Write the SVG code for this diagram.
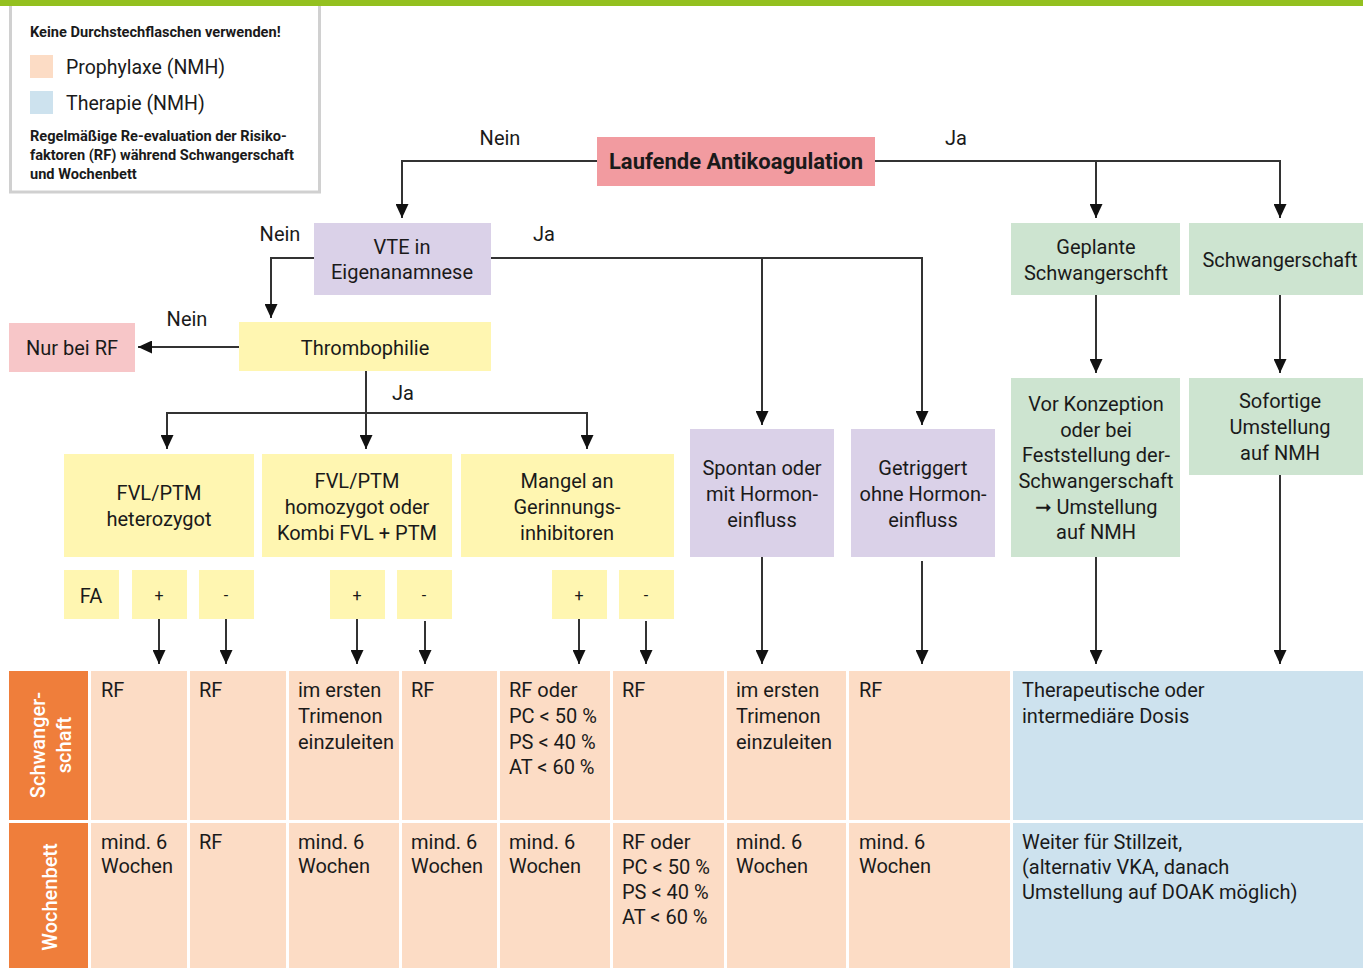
<svg xmlns="http://www.w3.org/2000/svg" width="1363" height="968" viewBox="0 0 1363 968">
<defs>
<style>
text{font-family:Roboto,"Liberation Sans",sans-serif;fill:#1a1a1a;font-size:20px}
.c{text-anchor:middle}
.b{font-weight:bold}
.lg{font-size:14.6px;font-weight:bold}
.sm{font-size:16px}
.hd{fill:#fff;font-weight:500;text-anchor:middle}
.ln{fill:none;stroke:#333;stroke-width:2}
.pk{fill:#f29ba0}.rs{fill:#f7c6c8}.lv{fill:#dad1e8}.ye{fill:#fff6b1}.gr{fill:#cde4d0}.pe{fill:#fcdcc5}.bl{fill:#cde2ee}.or{fill:#ef7e3b}
</style>
<marker id="ah" markerUnits="userSpaceOnUse" markerWidth="14" markerHeight="13" refX="14" refY="6.5" orient="auto">
<path d="M0,0 L14,6.5 L0,13 z" fill="#111"/>
</marker>
</defs>
<rect width="1363" height="968" fill="#fff"/>
<g id="legend">
<rect x="10.5" y="-2" width="309" height="194" fill="#fff" stroke="#d0d0d0" stroke-width="3"/>
<text x="30" y="37" class="lg">Keine Durchstechflaschen verwenden!</text>
<rect x="30" y="55" width="23" height="23" class="pe"/>
<text x="66" y="74" style="font-size:19.5px">Prophylaxe (NMH)</text>
<rect x="30" y="91" width="23" height="23" class="bl"/>
<text x="66" y="110" style="font-size:19.5px">Therapie (NMH)</text>
<text x="30" y="141" class="lg">Regelmäßige Re-evaluation der Risiko-</text>
<text x="30" y="160" class="lg">faktoren (RF) während Schwangerschaft</text>
<text x="30" y="179" class="lg">und Wochenbett</text>
</g>
<rect x="0" y="0" width="1363" height="6" fill="#93c01f"/>
<g id="connectors">
<polyline class="ln" points="597,161 402,161 402,218" marker-end="url(#ah)"/>
<polyline class="ln" points="875,161 1096,161 1096,218" marker-end="url(#ah)"/>
<polyline class="ln" points="1096,161 1280,161 1280,218" marker-end="url(#ah)"/>
<polyline class="ln" points="314,258 271,258 271,318" marker-end="url(#ah)"/>
<polyline class="ln" points="491,258 762,258 762,425" marker-end="url(#ah)"/>
<polyline class="ln" points="762,258 922,258 922,425" marker-end="url(#ah)"/>
<line class="ln" x1="239" y1="347" x2="138" y2="347" marker-end="url(#ah)"/>
<line class="ln" x1="366" y1="371" x2="366" y2="449" marker-end="url(#ah)"/>
<polyline class="ln" points="366,413 167,413 167,449" marker-end="url(#ah)"/>
<polyline class="ln" points="366,413 587,413 587,449" marker-end="url(#ah)"/>
<line class="ln" x1="1096" y1="295" x2="1096" y2="373" marker-end="url(#ah)"/>
<line class="ln" x1="1280" y1="295" x2="1280" y2="373" marker-end="url(#ah)"/>
<line class="ln" x1="159" y1="619" x2="159" y2="664" marker-end="url(#ah)"/>
<line class="ln" x1="226" y1="619" x2="226" y2="664" marker-end="url(#ah)"/>
<line class="ln" x1="357" y1="619" x2="357" y2="664" marker-end="url(#ah)"/>
<line class="ln" x1="425" y1="621" x2="425" y2="664" marker-end="url(#ah)"/>
<line class="ln" x1="579" y1="619" x2="579" y2="664" marker-end="url(#ah)"/>
<line class="ln" x1="646" y1="621" x2="646" y2="664" marker-end="url(#ah)"/>
<line class="ln" x1="762" y1="557" x2="762" y2="664" marker-end="url(#ah)"/>
<line class="ln" x1="922" y1="561" x2="922" y2="664" marker-end="url(#ah)"/>
<line class="ln" x1="1096" y1="557" x2="1096" y2="664" marker-end="url(#ah)"/>
<line class="ln" x1="1280" y1="475" x2="1280" y2="664" marker-end="url(#ah)"/>
<text x="500" y="145" class="c">Nein</text>
<text x="956" y="145" class="c">Ja</text>
<text x="280" y="241" class="c">Nein</text>
<text x="544" y="241" class="c">Ja</text>
<text x="187" y="326" class="c">Nein</text>
<text x="403" y="400" class="c">Ja</text>
</g>
<g id="laufende">
<rect x="597" y="137" width="278" height="49" class="pk"/>
<text x="736" y="169" class="c b" style="font-size:22px">Laufende Antikoagulation</text>
</g>
<g id="vte">
<rect x="314" y="223" width="177" height="72" class="lv"/>
<text x="402" y="254" class="c">VTE in</text>
<text x="402" y="279" class="c">Eigenanamnese</text>
</g>
<g id="thrombophilie">
<rect x="239" y="322" width="252" height="49" class="ye"/>
<text x="365" y="355" class="c">Thrombophilie</text>
</g>
<g id="nurbeirf">
<rect x="9" y="323" width="126" height="49" class="rs"/>
<text x="72" y="355" class="c">Nur bei RF</text>
</g>
<g id="fvl-het">
<rect x="64" y="454" width="190" height="103" class="ye"/>
<text x="159" y="500" class="c">FVL/PTM</text>
<text x="159" y="526" class="c">heterozygot</text>
</g>
<g id="fvl-hom">
<rect x="262" y="454" width="190" height="103" class="ye"/>
<text x="357" y="488" class="c">FVL/PTM</text>
<text x="357" y="514" class="c">homozygot oder</text>
<text x="357" y="540" class="c">Kombi FVL + PTM</text>
</g>
<g id="mangel">
<rect x="461" y="454" width="213" height="103" class="ye"/>
<text x="567" y="488" class="c">Mangel an</text>
<text x="567" y="514" class="c">Gerinnungs-</text>
<text x="567" y="540" class="c">inhibitoren</text>
</g>
<g id="fa"><rect x="64" y="570" width="55" height="49" class="ye"/><text x="91" y="603" class="c">FA</text></g>
<g id="het-plus"><rect x="132" y="570" width="55" height="49" class="ye"/><text x="159" y="601" class="c sm">+</text></g>
<g id="het-minus"><rect x="199" y="570" width="55" height="49" class="ye"/><text x="226" y="601" class="c sm">-</text></g>
<g id="hom-plus"><rect x="330" y="570" width="55" height="49" class="ye"/><text x="357" y="601" class="c sm">+</text></g>
<g id="hom-minus"><rect x="397" y="570" width="55" height="49" class="ye"/><text x="424" y="601" class="c sm">-</text></g>
<g id="mangel-plus"><rect x="552" y="570" width="55" height="49" class="ye"/><text x="579" y="601" class="c sm">+</text></g>
<g id="mangel-minus"><rect x="619" y="570" width="55" height="49" class="ye"/><text x="646" y="601" class="c sm">-</text></g>
<g id="spontan">
<rect x="690" y="429" width="144" height="128" class="lv"/>
<text x="762" y="475" class="c">Spontan oder</text>
<text x="762" y="501" class="c">mit Hormon-</text>
<text x="762" y="527" class="c">einfluss</text>
</g>
<g id="getriggert">
<rect x="851" y="429" width="144" height="128" class="lv"/>
<text x="923" y="475" class="c">Getriggert</text>
<text x="923" y="501" class="c">ohne Hormon-</text>
<text x="923" y="527" class="c">einfluss</text>
</g>
<g id="geplante">
<rect x="1011" y="223" width="169" height="72" class="gr"/>
<text x="1096" y="254" class="c">Geplante</text>
<text x="1096" y="280" class="c">Schwangerschft</text>
</g>
<g id="schwangerschaft">
<rect x="1189" y="223" width="174" height="72" class="gr"/>
<text x="1280" y="267" class="c">Schwangerschaft</text>
</g>
<g id="vorkonzeption">
<rect x="1011" y="378" width="169" height="179" class="gr"/>
<text x="1096" y="411" class="c">Vor Konzeption</text>
<text x="1096" y="437" class="c">oder bei</text>
<text x="1096" y="462" class="c">Feststellung der-</text>
<text x="1096" y="488" class="c">Schwangerschaft</text>
<text x="1096" y="514" class="c">➞ Umstellung</text>
<text x="1096" y="539" class="c">auf NMH</text>
</g>
<g id="sofortige">
<rect x="1189" y="378" width="174" height="97" class="gr"/>
<text x="1280" y="408" class="c">Sofortige</text>
<text x="1280" y="434" class="c">Umstellung</text>
<text x="1280" y="460" class="c">auf NMH</text>
</g>
<g id="table">
<rect x="9" y="671" width="79" height="149" class="or"/>
<rect x="9" y="823" width="79" height="145" class="or"/>
<text transform="translate(45,745) rotate(-90)" class="hd">Schwanger-</text>
<text transform="translate(71,745) rotate(-90)" class="hd">schaft</text>
<text transform="translate(57,897) rotate(-90)" class="hd">Wochenbett</text>
<rect x="91" y="671" width="96" height="149" class="pe"/>
<rect x="190" y="671" width="96" height="149" class="pe"/>
<rect x="289" y="671" width="110" height="149" class="pe"/>
<rect x="402" y="671" width="95" height="149" class="pe"/>
<rect x="500" y="671" width="110" height="149" class="pe"/>
<rect x="613" y="671" width="111" height="149" class="pe"/>
<rect x="727" y="671" width="119" height="149" class="pe"/>
<rect x="849" y="671" width="161" height="149" class="pe"/>
<rect x="1013" y="671" width="350" height="149" class="bl"/>
<rect x="91" y="823" width="96" height="145" class="pe"/>
<rect x="190" y="823" width="96" height="145" class="pe"/>
<rect x="289" y="823" width="110" height="145" class="pe"/>
<rect x="402" y="823" width="95" height="145" class="pe"/>
<rect x="500" y="823" width="110" height="145" class="pe"/>
<rect x="613" y="823" width="111" height="145" class="pe"/>
<rect x="727" y="823" width="119" height="145" class="pe"/>
<rect x="849" y="823" width="161" height="145" class="pe"/>
<rect x="1013" y="823" width="350" height="145" class="bl"/>
<text x="101" y="697">RF</text>
<text x="199" y="697">RF</text>
<text x="298" y="697">im ersten</text>
<text x="298" y="723">Trimenon</text>
<text x="298" y="749">einzuleiten</text>
<text x="411" y="697">RF</text>
<text x="509" y="697">RF oder</text>
<text x="509" y="723">PC &lt; 50 %</text>
<text x="509" y="749">PS &lt; 40 %</text>
<text x="509" y="774">AT &lt; 60 %</text>
<text x="622" y="697">RF</text>
<text x="736" y="697">im ersten</text>
<text x="736" y="723">Trimenon</text>
<text x="736" y="749">einzuleiten</text>
<text x="859" y="697">RF</text>
<text x="1022" y="697">Therapeutische oder</text>
<text x="1022" y="723">intermediäre Dosis</text>
<text x="101" y="849">mind. 6</text>
<text x="101" y="873">Wochen</text>
<text x="199" y="849">RF</text>
<text x="298" y="849">mind. 6</text>
<text x="298" y="873">Wochen</text>
<text x="411" y="849">mind. 6</text>
<text x="411" y="873">Wochen</text>
<text x="509" y="849">mind. 6</text>
<text x="509" y="873">Wochen</text>
<text x="622" y="849">RF oder</text>
<text x="622" y="874">PC &lt; 50 %</text>
<text x="622" y="899">PS &lt; 40 %</text>
<text x="622" y="924">AT &lt; 60 %</text>
<text x="736" y="849">mind. 6</text>
<text x="736" y="873">Wochen</text>
<text x="859" y="849">mind. 6</text>
<text x="859" y="873">Wochen</text>
<text x="1022" y="849">Weiter für Stillzeit,</text>
<text x="1022" y="874">(alternativ VKA, danach</text>
<text x="1022" y="899">Umstellung auf DOAK möglich)</text>
</g>
</svg>
